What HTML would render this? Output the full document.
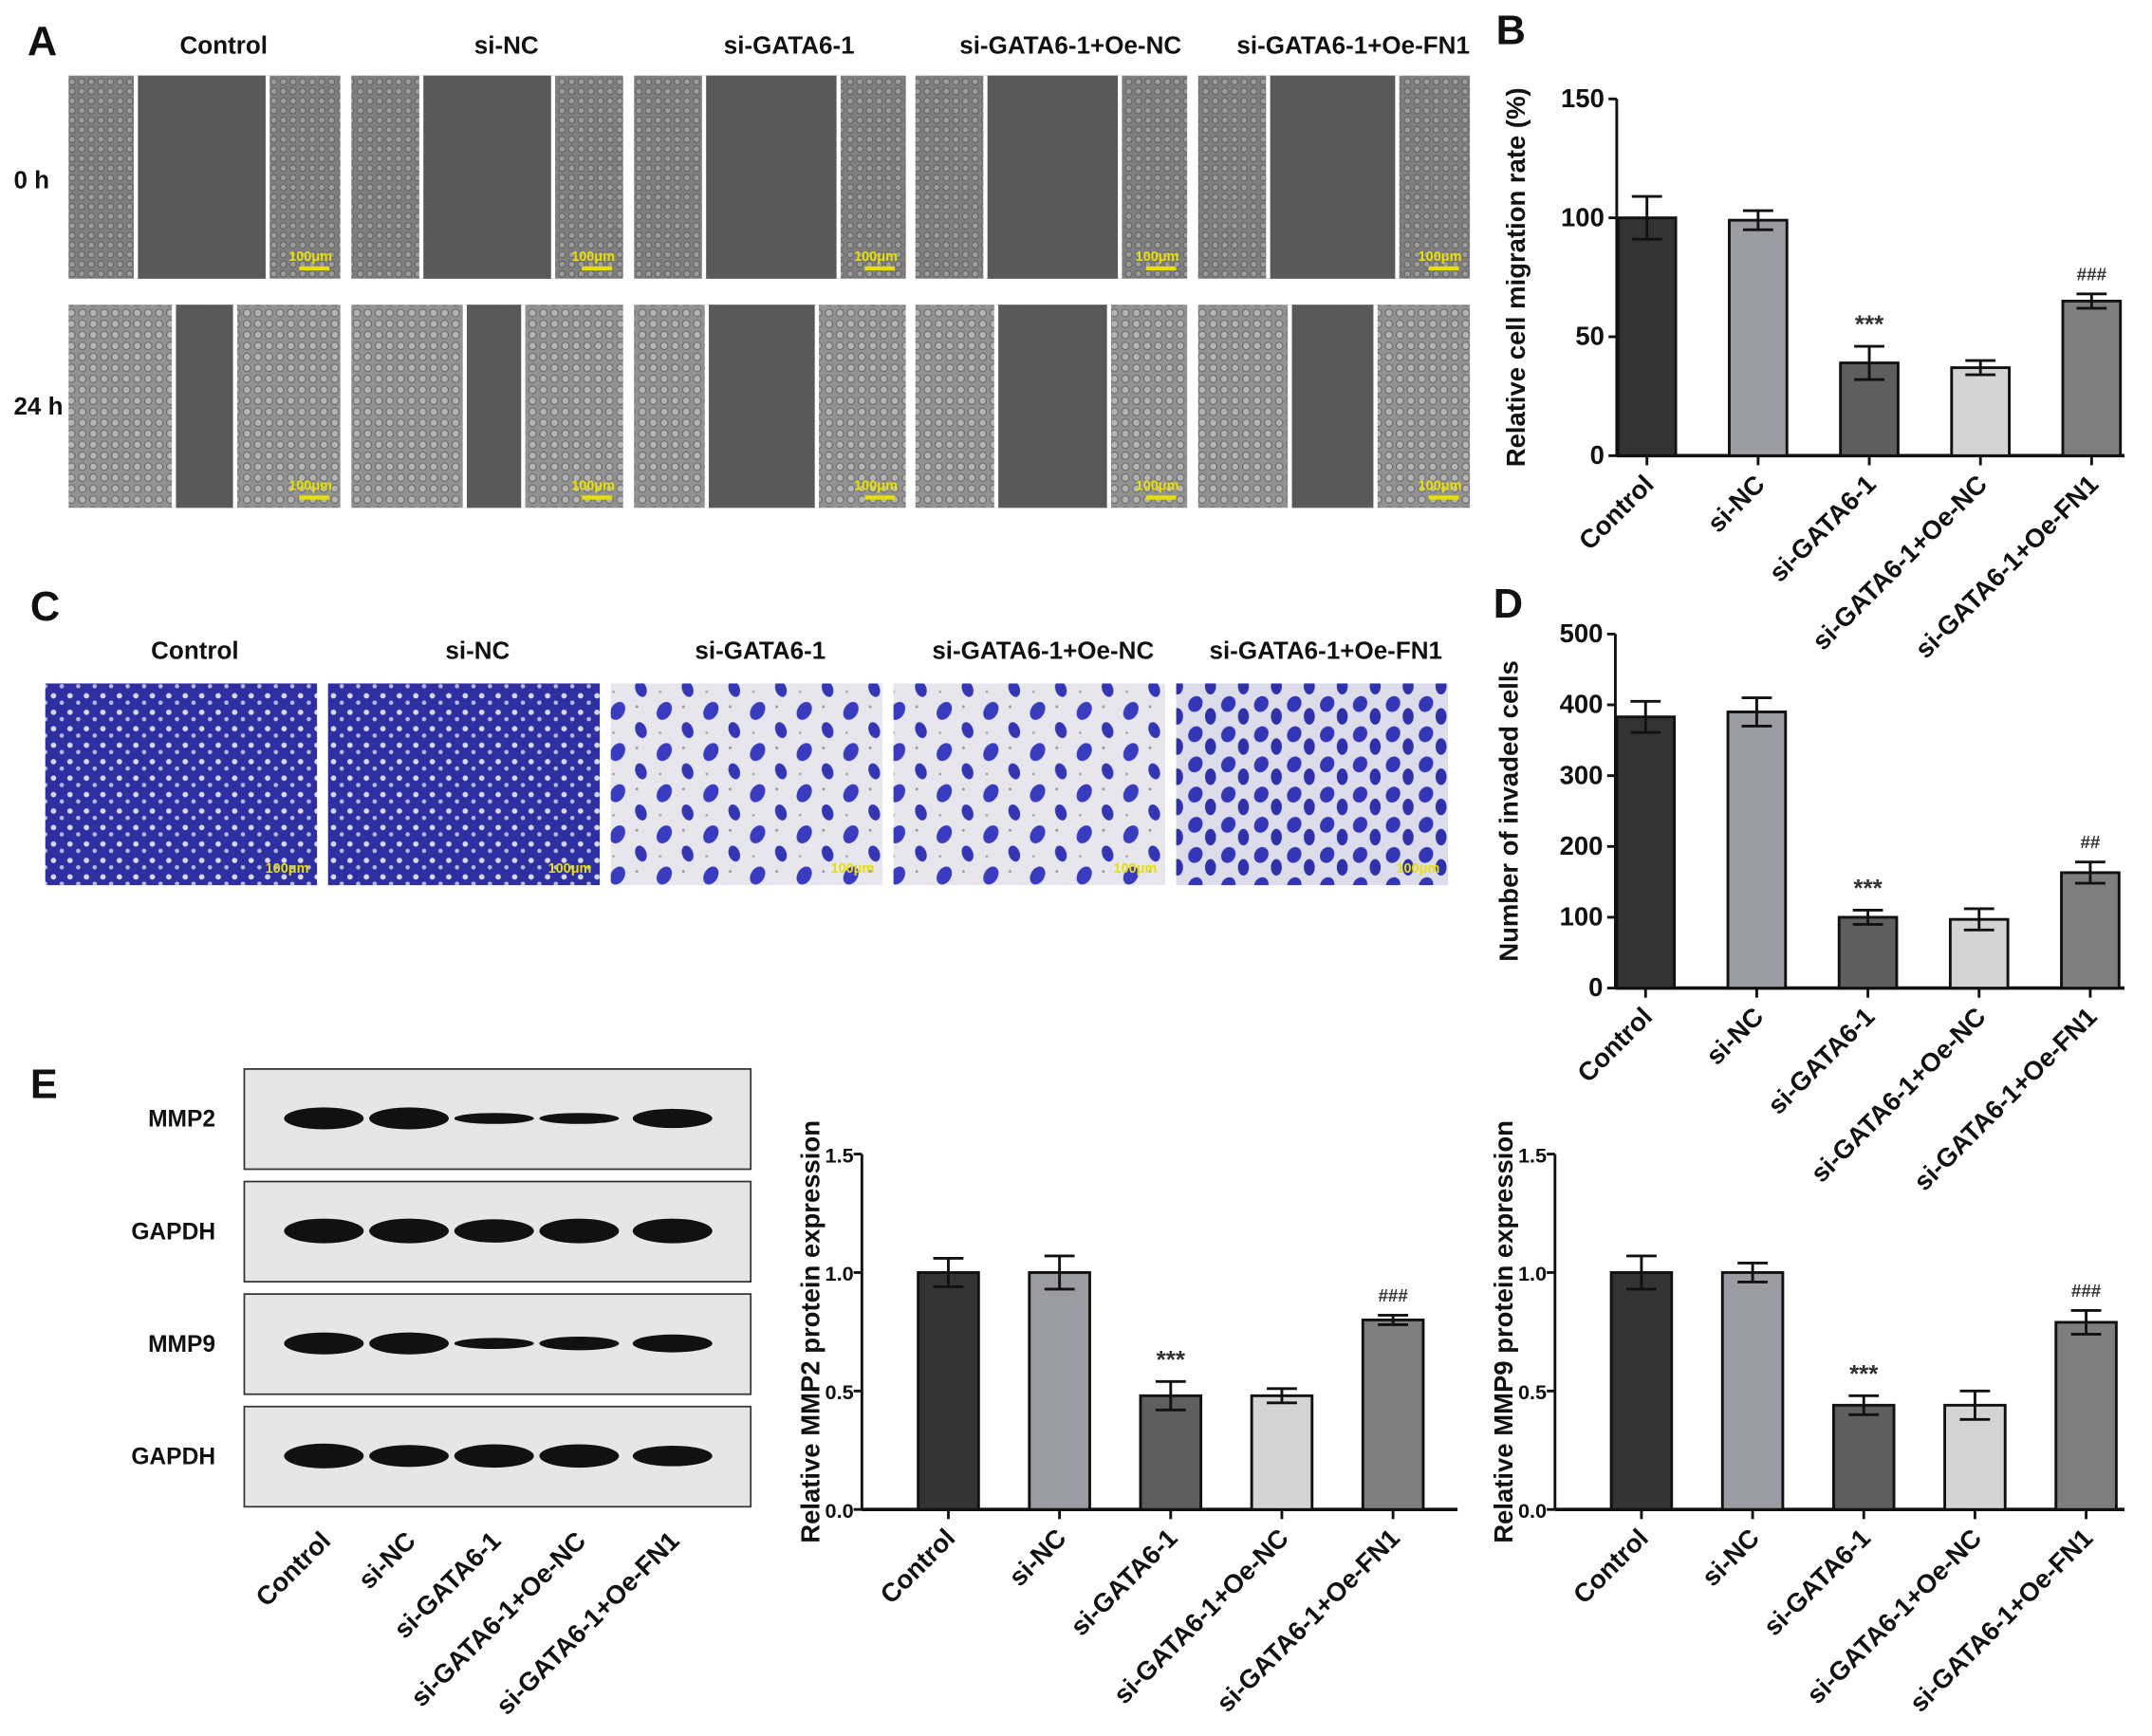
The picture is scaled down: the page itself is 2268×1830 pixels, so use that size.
<!DOCTYPE html>
<html><head><meta charset="utf-8"><style>
html,body{margin:0;padding:0;background:#fff}
svg{display:block}
text{font-family:"Liberation Sans",Arial,sans-serif;font-weight:bold;fill:#111}
</style></head><body>
<svg id="fig" xmlns="http://www.w3.org/2000/svg" width="2268" height="1830" viewBox="0 0 1568 1265">
<defs>
<pattern id="cells" width="7" height="7" patternUnits="userSpaceOnUse">
<rect width="7" height="7" fill="#7f7f7f"/><circle cx="3.5" cy="3.5" r="2.3" fill="#9c9c9c" stroke="#646464" stroke-width="0.8"/>
</pattern>
<pattern id="cells2" width="8" height="8" patternUnits="userSpaceOnUse">
<rect width="8" height="8" fill="#929292"/><circle cx="4" cy="4" r="2.7" fill="#b4b4b4" stroke="#6a6a6a" stroke-width="0.8"/>
</pattern>
<pattern id="dense" width="12" height="12" patternUnits="userSpaceOnUse">
<rect width="12" height="12" fill="#2e2fa0"/><circle cx="3" cy="3" r="2" fill="#d8d8ee"/><circle cx="9" cy="8" r="1.6" fill="#b8b8e0"/>
</pattern>
<pattern id="sparse" width="34" height="30" patternUnits="userSpaceOnUse">
<rect width="34" height="30" fill="#e6e6ec"/><ellipse cx="8" cy="8" rx="5" ry="7" fill="#3a3cc0" transform="rotate(30 8 8)"/><ellipse cx="25" cy="22" rx="4" ry="6" fill="#3436b4" transform="rotate(-20 25 22)"/><circle cx="22" cy="5" r="1" fill="#999"/><circle cx="5" cy="24" r="1" fill="#aaa"/>
</pattern>
<pattern id="medium" width="24" height="22" patternUnits="userSpaceOnUse">
<rect width="24" height="22" fill="#dcdcea"/><ellipse cx="7" cy="7" rx="5" ry="6" fill="#3436b8" transform="rotate(30 7 7)"/><ellipse cx="18" cy="16" rx="4" ry="6" fill="#2f31a8"/>
</pattern>
</defs>
<g id="panelA"></g>
<g id="panelC"></g>
<g id="panelE"></g>
<g id="charts"></g>
</svg>
<script>
const NS="http://www.w3.org/2000/svg";
const groups=["Control","si-NC","si-GATA6-1","si-GATA6-1+Oe-NC","si-GATA6-1+Oe-FN1"];
const barColors=["#333333","#9b9ba2","#5e5e5e","#d4d4d4","#7e7e7e"];
// Chart B
const migValues=[100,99,39,37,65];
const migErrors=[9,4,7,3,3];
const migTicks=[0,50,100,150];
const migMarks=["","","***","","###"];
// Chart D
const invValues=[383,390,100,97,163];
const invErrors=[22,20,10,15,15];
const invTicks=[0,100,200,300,400,500];
const invMarks=["","","***","","##"];
// MMP2
const mmp2Values=[1.0,1.0,0.48,0.48,0.80];
const mmp2Errors=[0.06,0.07,0.06,0.03,0.02];
const mmp2Ticks=[0,0.5,1.0,1.5];
const mmp2Marks=["","","***","","###"];
// MMP9
const mmp9Values=[1.0,1.0,0.44,0.44,0.79];
const mmp9Errors=[0.07,0.04,0.04,0.06,0.05];
const mmp9Ticks=[0,0.5,1.0,1.5];
const mmp9Marks=["","","***","","###"];
// wound gaps (fraction of image width) row 0h / 24h
const gap0=[[0.25,0.73],[0.26,0.74],[0.26,0.75],[0.26,0.75],[0.26,0.73]];
const gap24=[[0.39,0.61],[0.42,0.63],[0.27,0.67],[0.30,0.71],[0.34,0.65]];

function el(tag,attrs,parent,txt){const e=document.createElementNS(NS,tag);for(const k in attrs)e.setAttribute(k,attrs[k]);if(txt!==undefined)e.textContent=txt;parent.appendChild(e);return e;}
const fig=document.getElementById('fig');

[["A",20,40],["B",1090,32],["C",22,452],["D",1088,450],["E",22,800]].forEach(p=>{
 const t=el('text',{x:p[1],y:p[2],'font-size':30},fig,p[0]);
 
 
});

// Panel A
const pA=document.getElementById('panelA');
const aX=[50,256,462,667,873], aW=198;
groups.forEach((g,i)=>{
 const t=el('text',{x:aX[i]+aW/2+14,y:39,'font-size':18,'text-anchor':'middle'},pA,g);
 
 
});
[["0 h",137],["24 h",302]].forEach((r,j)=>{
 const t=el('text',{x:10,y:r[1],'font-size':18},pA,r[0]);
 
 
});
[[55,gap0,'cells'],[222,gap24,'cells2']].forEach((row,ri)=>{
 aX.forEach((x,i)=>{
  const gg=el('g',{},pA);
  
  
  el('rect',{x:x,y:row[0],width:aW,height:148,fill:'url(#'+row[2]+')'},gg);
  const a=x+row[1][i][0]*aW,b=x+row[1][i][1]*aW;
  el('rect',{x:a,y:row[0],width:b-a,height:148,fill:'#595959'},gg);
  el('rect',{x:a-2,y:row[0],width:3,height:148,fill:'#fff'},gg);
  el('rect',{x:b-1,y:row[0],width:3,height:148,fill:'#fff'},gg);
  el('text',{x:x+aW-6,y:row[0]+135,'font-size':10,'text-anchor':'end',style:'fill:#e8e000'},gg,'100μm');
  el('rect',{x:x+aW-30,y:row[0]+139,width:22,height:3,fill:'#e8e000'},gg);
 });
});

// Panel C
const pC=document.getElementById('panelC');
const cX=[33,239,445,651,857], cW=198, fills=['dense','dense','sparse','sparse','medium'];
groups.forEach((g,i)=>{
 const t=el('text',{x:cX[i]+cW/2+10,y:480,'font-size':18,'text-anchor':'middle'},pC,g);
 
 
 const gg=el('g',{},pC);
 
 
 el('rect',{x:cX[i],y:498,width:cW,height:147,fill:'url(#'+fills[i]+')'},gg);
 el('text',{x:cX[i]+cW-6,y:636,'font-size':10,'text-anchor':'end',style:'fill:#e8e000'},gg,'100μm');
});

// Panel E blot
const pE=document.getElementById('panelE');
const blotY=[779,861,943,1025], blotNames=["MMP2","GAPDH","MMP9","GAPDH"];
const bandX=[236,298,360,422,490];
const bandH=[[16,16,8,8,14],[18,18,17,18,18],[16,16,8,10,13],[18,16,17,17,15]];
blotY.forEach((y,j)=>{
 const gg=el('g',{},pE);
 
 
 el('rect',{x:178,y:y,width:369,height:73,fill:'#e6e6e6',stroke:'#333','stroke-width':1.2},gg);
 el('text',{x:157,y:y+42,'font-size':17,'text-anchor':'end'},gg,blotNames[j]);
 bandX.forEach((bx,k)=>{el('ellipse',{cx:bx,cy:y+36,rx:29,ry:bandH[j][k]/2,fill:'#111'},gg);});
});
const blotTicks=[236,298,360,422,490];
groups.forEach((g,i)=>{
 const lx=blotTicks[i]+6,ly=1124;
 const t=el('text',{x:lx,y:ly,'font-size':19,'text-anchor':'end',transform:'rotate(-45 '+lx+' '+ly+')'},pE,g);
 
 
});

// Bar charts
const chartsG=document.getElementById('charts');
function drawChart(name,cfg,values,errors,ticks,marks,title){
 const g=el('g',{},chartsG);
 
 
 const max=ticks[ticks.length-1];
 const y=v=>cfg.y0-(v/max)*(cfg.y0-cfg.yTop);
 const x=i=>cfg.x0+cfg.first+i*cfg.step;
 el('line',{x1:cfg.x0,y1:cfg.yTop,x2:cfg.x0,y2:cfg.y0,stroke:'#111','stroke-width':2},g);
 el('line',{x1:cfg.x0,y1:cfg.y0,x2:cfg.x1,y2:cfg.y0,stroke:'#111','stroke-width':2.5},g);
 ticks.forEach(t=>{
  el('line',{x1:cfg.x0-6,y1:y(t),x2:cfg.x0,y2:y(t),stroke:'#111','stroke-width':2},g);
  const tl=el('text',{x:cfg.x0-cfg.tg,y:y(t)+6,'font-size':cfg.tf,'text-anchor':'end'},g,cfg.dec?t.toFixed(1):String(t));
  
  
 });
 values.forEach((v,i)=>{
  const b=el('rect',{x:x(i)-cfg.bw/2,y:y(v),width:cfg.bw,height:cfg.y0-y(v),fill:barColors[i],stroke:'#111','stroke-width':2},g);
  
  
  const e=errors[i];
  el('line',{x1:x(i),y1:y(v+e),x2:x(i),y2:y(v-e),stroke:'#111','stroke-width':2},g);
  el('line',{x1:x(i)-11,y1:y(v+e),x2:x(i)+11,y2:y(v+e),stroke:'#111','stroke-width':2},g);
  el('line',{x1:x(i)-11,y1:y(v-e),x2:x(i)+11,y2:y(v-e),stroke:'#111','stroke-width':2},g);
  el('line',{x1:x(i),y1:cfg.y0,x2:x(i),y2:cfg.y0+7,stroke:'#111','stroke-width':2},g);
  if(marks[i]){const m=el('text',{x:x(i),y:y(v+e)-10,'font-size':marks[i][0]=='#'?13:18,'text-anchor':'middle',style:'fill:#333'},g,marks[i]);
   
   }
  const lx=x(i)+6,ly=cfg.y0+22;
  const l=el('text',{x:lx,y:ly,'font-size':19,'text-anchor':'end',transform:'rotate(-45 '+lx+' '+ly+')'},g,groups[i]);
  
  
 });
 const ty=(cfg.y0+cfg.yTop)/2+cfg.tOff;
 const tt=el('text',{x:cfg.tx,y:ty,'font-size':19,'text-anchor':'middle',transform:'rotate(-90 '+cfg.tx+' '+ty+')'},g,title);
 
 
}
drawChart('migration-chart',{x0:1178,x1:1548,y0:332,yTop:72,first:22,step:81,bw:42,tx:1111,tOff:0,dec:false,tf:19,tg:9},migValues,migErrors,migTicks,migMarks,'Relative cell migration rate (%)');
drawChart('invasion-chart',{x0:1177,x1:1548,y0:720,yTop:462,first:22,step:81,bw:42,tx:1106,tOff:0,dec:false,tf:19,tg:9},invValues,invErrors,invTicks,invMarks,'Number of invaded cells');
drawChart('mmp2-chart',{x0:628,x1:1062,y0:1100,yTop:841,first:63,step:81,bw:44,tx:597,tOff:0,dec:true,tf:15,tg:6},mmp2Values,mmp2Errors,mmp2Ticks,mmp2Marks,'Relative MMP2 protein expression');
drawChart('mmp9-chart',{x0:1133,x1:1548,y0:1100,yTop:841,first:63,step:81,bw:44,tx:1102,tOff:0,dec:true,tf:15,tg:6},mmp9Values,mmp9Errors,mmp9Ticks,mmp9Marks,'Relative MMP9 protein expression');
</script>
</body></html>
